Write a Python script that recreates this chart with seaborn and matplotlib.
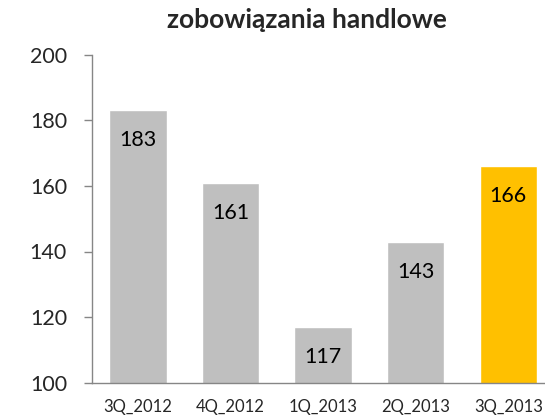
import matplotlib
matplotlib.use("Agg")
import matplotlib.pyplot as plt
import seaborn as sns
import pandas as pd
import numpy as np

categories = ["3Q_2012", "4Q_2012", "1Q_2013", "2Q_2013", "3Q_2013"]
values = [183, 161, 117, 143, 166]
colors = ["#BFBFBF", "#BFBFBF", "#BFBFBF", "#BFBFBF", "#FFC000"]
yticks = [100, 120, 140, 160, 180, 200]
title = "zobowiązania handlowe"

sns.set_theme(style="white")
plt.rcParams["font.family"] = ["Lato", "DejaVu Sans"]

df = pd.DataFrame({"cat": categories, "val": values})

fig = plt.figure(figsize=(5.45, 4.18), dpi=100)
ax = fig.add_axes([91.7 / 545, (418 - 382.7) / 418, (554.5 - 91.7) / 545, (382.7 - 54.7) / 418])

sns.barplot(data=df, x="cat", y="val", hue="cat", palette=colors, legend=False,
            width=0.62, ax=ax, saturation=1)

ax.set_xlim(-0.5, 4.5)
ax.set_ylim(100, 200)
ax.set_yticks(yticks)
ax.set_yticklabels([str(t) for t in yticks], fontsize=15.5)
ax.set_xlabel("")
ax.set_ylabel("")

# x ticks: labels at centers, tick marks at boundaries
ax.set_xticks(range(len(categories)))
ax.set_xticklabels(categories, fontsize=12)
ax.set_xticks(np.arange(-0.5, len(categories) + 0.5, 1), minor=True)
ax.tick_params(axis="x", which="major", length=0, pad=12)
ax.tick_params(axis="x", which="minor", length=4, width=1, color="#868686", direction="out")
ax.tick_params(axis="y", which="major", length=5.8, width=1, color="#868686", direction="out", pad=12, left=True)

for s in ["top", "right"]:
    ax.spines[s].set_visible(False)
for s in ["left", "bottom"]:
    ax.spines[s].set_color("#868686")
    ax.spines[s].set_linewidth(1)

for i, v in enumerate(values):
    ax.annotate(str(v), xy=(i, v), xytext=(0, -21.6), textcoords="offset points",
                ha="center", va="center", fontsize=15.5, color="black")

fig.text(307 / 545, 1 - 20 / 418, title, ha="center", va="center",
         fontsize=19, fontweight="bold")

fig.savefig("out.png", dpi=100)
